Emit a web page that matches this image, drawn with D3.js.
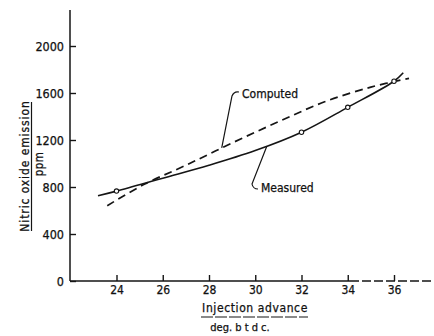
<!DOCTYPE html>
<html>
<head>
<meta charset="utf-8">
<script src="https://cdn.jsdelivr.net/npm/d3@7"></script>
<style>
  html, body { margin: 0; padding: 0; background: #fff; }
  svg { display: block; }
  text { font-family: "DejaVu Sans Condensed", "DejaVu Sans", sans-serif; fill: #111; stroke: #111; stroke-width: 0.25px; }
</style>
</head>
<body>
<svg id="chart" width="434" height="336"></svg>
<script>
// Injection advance (deg b.t.d.c.) vs nitric oxide emission (ppm)
const xTicks = [24, 26, 28, 30, 32, 34, 36];
const yTicks = [0, 400, 800, 1200, 1600, 2000];

const measuredAdvance = [23.2, 24, 26, 28, 30, 32, 34, 36, 36.4];
const measuredNO      = [726, 765, 875, 985, 1110, 1266, 1478, 1700, 1772];
const markerAdvance   = [24, 32, 34, 36];
const markerNO        = [765, 1266, 1478, 1700];

const computedAdvance = [23.6, 25.2, 27, 29, 31, 33, 35, 36.65];
const computedNO      = [641, 823, 985, 1175, 1355, 1525, 1650, 1725];

const svg = d3.select("#chart");
const ink = "#151515";

const x = d3.scaleLinear().domain([24, 36]).range([116.5, 394]);
const y = d3.scaleLinear().domain([0, 2000]).range([281, 46]);

// axis lines
const x0 = 70;
svg.append("line").attr("x1", x0).attr("x2", x0).attr("y1", 10).attr("y2", y(0))
  .attr("stroke", ink).attr("stroke-width", 1.5);
svg.append("line").attr("x1", x0).attr("x2", 350).attr("y1", y(0)).attr("y2", y(0))
  .attr("stroke", ink).attr("stroke-width", 1.5);
svg.append("line").attr("x1", 350).attr("x2", 432).attr("y1", y(0)).attr("y2", y(0))
  .attr("stroke", ink).attr("stroke-width", 1.4).attr("stroke-dasharray", "9 3");

// x axis ticks (pointing up into the plot)
const gx = svg.append("g").attr("transform", `translate(0,${y(0)})`)
  .call(d3.axisBottom(x).tickValues(xTicks).tickSize(-6).tickPadding(15).tickFormat(d3.format("d")));
gx.select(".domain").remove();
gx.selectAll(".tick line").attr("stroke", ink).attr("stroke-width", 1.4);
gx.selectAll(".tick text").attr("font-size", 12).attr("fill", ink).attr("dy", "-0.2em")
  .style("font-family", "'DejaVu Sans Condensed', sans-serif");

// y axis ticks (pointing right into the plot)
const gy = svg.append("g").attr("transform", `translate(${x0},0)`)
  .call(d3.axisLeft(y).tickValues(yTicks).tickSize(-6).tickPadding(6).tickFormat(d3.format("d")));
gy.select(".domain").remove();
gy.selectAll(".tick line").attr("stroke", ink).attr("stroke-width", 1.4);
gy.selectAll(".tick text").attr("font-size", 12.5).attr("fill", ink)
  .style("font-family", "'DejaVu Sans Condensed', sans-serif");

// curves
const line = d3.line().x(d => x(d[0])).y(d => y(d[1])).curve(d3.curveCatmullRom.alpha(0.5));
const measured = measuredAdvance.map((a, i) => [a, measuredNO[i]]);
const computed = computedAdvance.map((a, i) => [a, computedNO[i]]);

svg.append("path").datum(computed).attr("d", line)
  .attr("fill", "none").attr("stroke", ink).attr("stroke-width", 1.7)
  .attr("stroke-dasharray", "8 5");
svg.append("path").datum(measured).attr("d", line)
  .attr("fill", "none").attr("stroke", ink).attr("stroke-width", 1.6);

svg.selectAll("circle.pt").data(markerAdvance.map((a, i) => [a, markerNO[i]]))
  .join("circle").attr("class", "pt")
  .attr("cx", d => x(d[0])).attr("cy", d => y(d[1])).attr("r", 2.2)
  .attr("fill", "#fff").attr("stroke", ink).attr("stroke-width", 1.1);

// callout labels with leader lines
const anchorC = [28.55, 1132];
svg.append("path")
  .attr("d", `M${x(anchorC[0])},${y(anchorC[1])} L232,96 Q234,91 239,92`)
  .attr("fill", "none").attr("stroke", ink).attr("stroke-width", 1.2);
svg.append("text").attr("x", 242).attr("y", 97.5).attr("font-size", 12).text("Computed");

const anchorM = [30.5, 1147];
svg.append("path")
  .attr("d", `M${x(anchorM[0])},${y(anchorM[1])} L252,184 Q253,189 258,189`)
  .attr("fill", "none").attr("stroke", ink).attr("stroke-width", 1.2);
svg.append("text").attr("x", 261).attr("y", 192).attr("font-size", 12).text("Measured");

// axis titles
svg.append("text").attr("x", 255).attr("y", 312).attr("text-anchor", "middle")
  .attr("font-size", 12).attr("letter-spacing", 0.6).text("Injection advance");
svg.append("line").attr("x1", 201).attr("x2", 308).attr("y1", 317).attr("y2", 317)
  .attr("stroke", ink).attr("stroke-width", 1.1).attr("stroke-dasharray", "12 2");
svg.append("text").attr("x", 240).attr("y", 331).attr("text-anchor", "middle")
  .attr("font-size", 11).text("deg. b t d c.");

svg.append("text").attr("transform", "translate(29,166) rotate(-90)")
  .attr("text-anchor", "middle").attr("font-size", 12).attr("letter-spacing", 0.9)
  .text("Nitric oxide emission");
svg.append("line").attr("x1", 31.5).attr("x2", 31.5).attr("y1", 102).attr("y2", 231)
  .attr("stroke", ink).attr("stroke-width", 1.2);
svg.append("text").attr("transform", "translate(43,164) rotate(-90)")
  .attr("text-anchor", "middle").attr("font-size", 11.5).attr("letter-spacing", 0.5).text("ppm");
</script>
</body>
</html>
